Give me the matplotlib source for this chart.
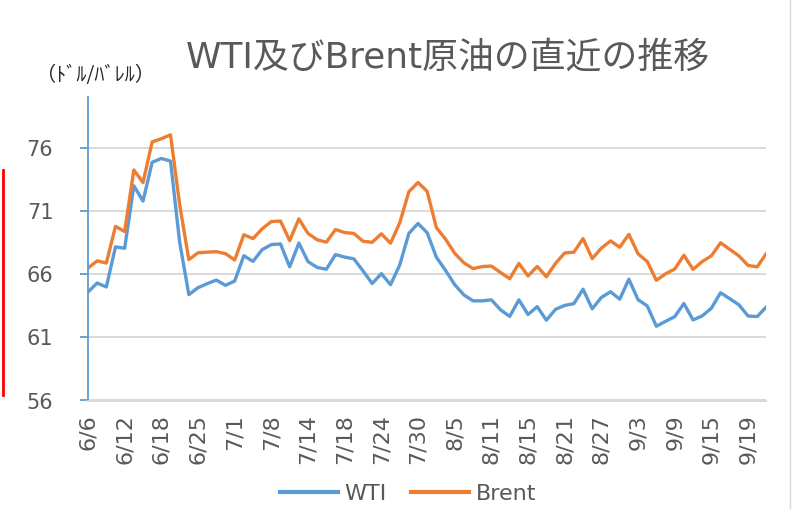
import matplotlib
matplotlib.use("Agg")
import matplotlib.pyplot as plt
from matplotlib.lines import Line2D

# ---- data (2025 daily settlements, $/bbl) ----
dates = [
    "6/6", "6/9", "6/10", "6/11", "6/12", "6/13", "6/16", "6/17", "6/18", "6/20",
    "6/23", "6/24", "6/25", "6/26", "6/27", "6/30", "7/1", "7/2", "7/3", "7/7",
    "7/8", "7/9", "7/10", "7/11", "7/14", "7/15", "7/16", "7/17", "7/18", "7/21",
    "7/22", "7/23", "7/24", "7/25", "7/28", "7/29", "7/30", "7/31", "8/1", "8/4",
    "8/5", "8/6", "8/7", "8/8", "8/11", "8/12", "8/13", "8/14", "8/15", "8/18",
    "8/19", "8/20", "8/21", "8/22", "8/25", "8/26", "8/27", "8/28", "8/29", "9/2",
    "9/3", "9/4", "9/5", "9/8", "9/9", "9/10", "9/11", "9/12", "9/15", "9/16",
    "9/17", "9/18", "9/19", "9/22", "9/23",
]
wti = [
    64.58, 65.29, 64.98, 68.15, 68.04, 72.98, 71.77, 74.84, 75.14, 74.93,
    68.51, 64.37, 64.92, 65.24, 65.52, 65.11, 65.45, 67.45, 67.00, 67.93,
    68.33, 68.38, 66.57, 68.45, 66.98, 66.52, 66.38, 67.54, 67.34, 67.20,
    66.25, 65.25, 66.03, 65.16, 66.71, 69.21, 70.00, 69.26, 67.33, 66.29,
    65.16, 64.35, 63.88, 63.88, 63.96, 63.17, 62.65, 63.96, 62.80, 63.42,
    62.35, 63.21, 63.52, 63.66, 64.80, 63.25, 64.15, 64.60, 64.01, 65.59,
    63.97, 63.48, 61.87, 62.26, 62.63, 63.67, 62.37, 62.69, 63.30, 64.52,
    64.05, 63.57, 62.68, 62.64, 63.41,
]
brent = [
    66.47, 67.04, 66.87, 69.77, 69.36, 74.23, 73.23, 76.45, 76.70, 77.01,
    71.48, 67.14, 67.68, 67.73, 67.77, 67.61, 67.11, 69.11, 68.80, 69.58,
    70.15, 70.19, 68.64, 70.36, 69.21, 68.71, 68.52, 69.52, 69.28, 69.21,
    68.59, 68.51, 69.18, 68.44, 70.04, 72.51, 73.24, 72.53, 69.67, 68.76,
    67.64, 66.89, 66.43, 66.59, 66.63, 66.12, 65.63, 66.84, 65.85, 66.60,
    65.79, 66.84, 67.67, 67.73, 68.80, 67.22, 68.05, 68.62, 68.12, 69.14,
    67.60, 66.99, 65.50, 66.02, 66.39, 67.49, 66.37, 66.99, 67.44, 68.47,
    67.95, 67.44, 66.68, 66.57, 67.63,
]
yticks = [56, 61, 66, 71, 76]
series_names = ["WTI", "Brent"]
title = "WTI及びBrent原油の直近の推移"
unit_label = "（ﾄﾞﾙ/ﾊﾞﾚﾙ）"

FONT = ["DejaVu Sans", "Noto Sans CJK JP"]
plt.rcParams["font.family"] = FONT
GRAY = "#595959"
BLUE = "#5B9BD5"
ORANGE = "#ED7D31"

W, H = 798, 511
fig = plt.figure(figsize=(W / 100, H / 100), dpi=100)
fig.patch.set_facecolor("white")

ax = fig.add_axes([88 / W, 1 - 400.5 / H, (766.4 - 88) / W, (400.5 - 97) / H])
x = list(range(len(dates)))
ax.plot(x, wti, color=BLUE, lw=2.4, label=series_names[0], solid_joinstyle="round")
ax.plot(x, brent, color=ORANGE, lw=2.4, label=series_names[1], solid_joinstyle="round")

ax.set_xlim(0, len(dates) - 1)
ax.set_ylim(56, 80)
ax.set_yticks(yticks)
ax.set_yticklabels([str(v) for v in yticks])
ax.grid(axis="y", color="#D9D9D9", lw=1.4)
ax.set_axisbelow(True)
for s in ["top", "right"]:
    ax.spines[s].set_visible(False)
ax.spines["left"].set_color(BLUE)
ax.spines["left"].set_linewidth(1.3)
ax.spines["bottom"].set_color("#D9D9D9")
ax.spines["bottom"].set_linewidth(1.4)

ax.tick_params(axis="y", colors=BLUE, length=6, width=1.3, pad=19,
               labelcolor=GRAY, labelsize=15)
idx = list(range(0, len(dates), 4))
ax.set_xticks(idx)
ax.set_xticklabels([dates[i] for i in idx], rotation=90, va="top", ha="center")
ax.tick_params(axis="x", length=0, pad=10, labelcolor=GRAY, labelsize=16)

fig.text(448 / W, 1 - 58 / H, title, ha="center", va="center",
         fontsize=25.8, color=GRAY)
fig.text(36 / W, 1 - 76 / H, unit_label, ha="left", va="center",
         fontsize=14.5, color="#262626", family=["Noto Sans CJK JP", "DejaVu Sans"])

leg = fig.legend(loc="center", bbox_to_anchor=(408 / W, 1 - 494 / H), ncol=2,
                 frameon=False, fontsize=16, handlelength=2.6,
                 handletextpad=0.3, columnspacing=1.1)
for t in leg.get_texts():
    t.set_color(GRAY)
for h in leg.get_lines():
    h.set_linewidth(3)

# red marker line on the left edge and chart border
fig.add_artist(Line2D([2.5 / W, 2.5 / W], [1 - 170 / H, 1 - 395 / H],
                      color="red", lw=2))
fig.add_artist(Line2D([790 / W, 790 / W], [1 - 0 / H, 1 - 508 / H],
                      color="#D9D9D9", lw=1))

fig.savefig("out.png", dpi=100)
